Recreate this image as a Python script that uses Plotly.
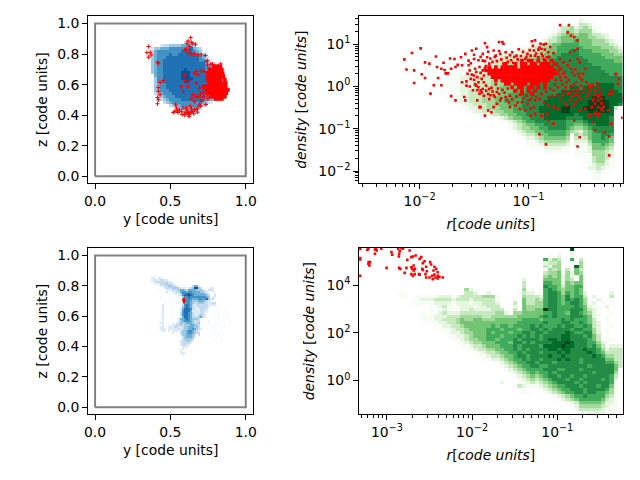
#!/usr/bin/env python3
"""Gas slices in the y-z plane and density against radius, two snapshots."""

import plotly.graph_objects as go
from plotly.subplots import make_subplots

BLUES = ["#f7fbff", "#deebf7", "#c6dbef", "#9ecae1", "#6baed6", "#4292c6", "#2171b5", "#08519c", "#08306b"]
GREENS = ["#f7fcf5", "#e5f5e0", "#c7e9c0", "#a1d99b", "#74c476", "#41ab5d", "#238b45", "#006d2c", "#00441b"]

BOX_Y = [0, 1, 1, 0, 0]
BOX_Z = [0, 0, 1, 1, 0]

# histogram rows, top row first, "." is an empty bin, digits are colour levels
SLICE_TOP = [
    ".......... .......... .........",
    ".......... ..1332.... .........",
    ".....23344 4455654... .........",
    "..24455566 666667543. .........",
    "..35666666 6677776541 .........",
    "..45666676 6777777654 21.......",
    "..45666777 7777777765 321......",
    "..45667777 7777777766 4321.....",
    "..45667777 7777777777 544321...",
    "..45667777 7777777777 655432...",
    "..45667777 7778777777 6655432..",
    "..45667777 7788877777 7665432..",
    "...5667777 7788877777 7766543..",
    "...4667777 7788887777 7766543..",
    "...4667777 7778877777 77766432.",
    "...4566777 7777777777 77766532.",
    "...4566777 7777777777 77766543.",
    "...4566677 7777777777 77666543.",
    "...3456667 7777777777 76666432.",
    "....345666 7777777777 66655321.",
    "....234566 6677777776 655421...",
    "......3456 6666666665 432......",
    "........34 5566666654 1........",
    ".......... 344555543. .........",
    ".......... ..34453... .........",
    ".......... ....22.... .........",
]

SLICE_BOTTOM = [
    "..11.1.... .......... .......... .......... ......",
    ".2211221.. .......... .......... .......... ......",
    ".223223322 1......... .......... .......... ......",
    ".122333333 2211...... .......... .......... ......",
    "..12123334 3321..1... .......... .......... ......",
    "...1.12233 4433211... ..3552.... .......... ......",
    ".....1.123 3344432221 23488431.. 122....... ......",
    "......1.12 2233345543 5555444321 232....... ......",
    "........12 1122335665 6655554432 1.2....... ......",
    ".......1.1 1112224667 7665555543 2..2...... ......",
    ".......1.. 11.1123677 8765555554 3..2...... ......",
    "......1... ..1..11466 7666666665 4.22...... ......",
    "......1.1. 1.1.1.1356 6655566567 423....... ......",
    "......1.1. .1.1.1.256 6544455543 22........ ......",
    ".......11. 1.1...1256 6543344433 2233...... ......",
    ".......21. .1.1..1367 6532333333 2222.1.... ......",
    ".......21. .1..1.1467 6532233333 2.1.1..... ......",
    ".......211 ..1...2577 7632223332 1..1.1.... ......",
    ".......21. .1..1.2677 7522223322 1.1.1.1.1. ......",
    "......121. ..1.1.3677 6532223321 .1.1.1.1.1 ......",
    "......12.1 .1...13677 6532234321 ..1.1.1.1. ......",
    "......12.. 1.1..12577 6533345321 .1.1.1.1.1 ......",
    "......12.1 ..1.125567 6544431... ..11.1.1.1 1.....",
    ".....112.1 1.1.124566 6543331... 1..1.1.1.. .1....",
    ".....122.. .111234445 5543341... 1.1.1.1.1. ......",
    ".....112.1 1122334344 4554431... 1.1.1.1.1. 1.....",
    ".....1221. 2223322344 5554431... .1.1..1.1. ......",
    ".....1222. 2222232344 5565432... ..1.1.1... ......",
    "......122. 2.222.3445 665432.... .......... ......",
    ".......1.. .12.1.3445 665433.... .1.1.1.1.. ......",
    ".......... ...1..2445 5543.3.... ...1.1.1.. ......",
    ".......... ......1345 55421..... 1...1.1... ......",
    ".......... ......1344 4431...... ..1...1... ......",
    ".......... .....12334 432....... .......... ......",
    ".......... .....12333 32........ ....1..... ......",
    ".......... ......2332 2......... .......... ......",
    ".......... ......1222 1......... .......... ......",
    ".......... ......1211 .......... .......... ......",
    ".......... .....1211. .......... .......... ......",
    ".......... ......222. .......... .......... ......",
    ".......... ......121. .......... .......... ......",
]

PROFILE_TOP = [
    ".......... .......... .......... 1.........",
    ".......... .......... .......... 21........",
    ".......... .......... .........1 3321......",
    ".......... .......... .....13342 34311.....",
    ".......... .......... .....23443 44421.....",
    ".......... .......... ...1234554 5543322...",
    ".......... .......... ..12345555 554433211.",
    ".......... .......... .123345556 5554443211",
    ".......... .........1 2334556666 5554444321",
    ".......... ......1112 3344566666 6555544432",
    ".......... ...1112223 3445566677 6665555443",
    ".......... ..12222333 4455667777 6666655544",
    ".......... 1223333344 5556677777 7666665555",
    ".......1.1 2333334445 5566777777 7766666655",
    "......1111 2334444455 5667777777 7776666666",
    "1...111122 2334444555 6667777777 7777766666",
    "1..1112222 3344455556 6677777777 7777776666",
    "1111122223 3444555566 6777777777 7777777676",
    "1112222333 3444555666 7777777777 7777777777",
    "1112223333 4445555666 7777777777 7777777777",
    "1112223333 4445556667 7777777777 7777888877",
    "1112223334 4455556667 7777777788 7888888877",
    "1112233334 4455566677 7777778888 8888888887",
    "1112233344 4455666777 7777788888 8888888888",
    "1.12233344 4556666777 7778888888 8889998888",
    ".112233344 4556666777 7788888888 8899999888",
    "...1223334 4555666777 7788888888 8899999887",
    "...1122334 4455566777 7888889988 8999999831",
    "....112233 3445566677 7888889988 88999998..",
    "......1122 3344556677 7788888887 88888888..",
    ".........1 1123455667 7788888777 78888887..",
    ".......... ..11234566 7777777666 67888887..",
    ".......... ....123455 6677777665 56778887..",
    ".......... ....123445 5667777654 45677777..",
    ".......... .....12344 5566666543 24567777..",
    ".......... ......1233 45566665.4 34566776..",
    ".......... .......122 34555554.3 23566765..",
    ".......... ........11 23444443.2 22466665..",
    ".......... ........11 12333332.2 11355654..",
    ".......... .........1 11222211.1 11255543..",
    ".......... .......... ..111111.1 11244432..",
    ".......... .......... .........1 11144432..",
    ".......... .......... .......... .1134431..",
    ".......... .......... .......... .1134421..",
    ".......... .......... .......... ..123321..",
    ".......... .......... .......... ..223211..",
    ".......... .......... .......... ...1211...",
    ".......... .......... .......... ...11.....",
    ".......... .......... .......... ...11.....",
    ".......... .......... .......... ....1.....",
]

PROFILE_BOTTOM = [
    ".......... .......... .......... .......... ........9. ..........",
    ".......... .......... .......... .......... .....1..2. ..........",
    ".......... .......... .......... .......... ...1.2..1. ..........",
    ".......... .......... .......... .......... ..6243..6. 3.........",
    ".......... .......... .......... .......... ..2334...1 4.........",
    ".......... .......... .......... .......... ..3244..18 4.........",
    ".......... .......... .......... .......... ..1434.3.5 3.........",
    ".......... .......... .......... .......... ..34451425 4.........",
    ".......... .......... .......... .......... ..4545242. 5.........",
    ".......... .......... .......... .......2.. ..5555243. 5.........",
    ".......... .......... .......... .......3.. ..66552545 5.........",
    ".......... .......... .......... .......3.. ..76653556 6.........",
    ".......... .......... ....421... .......411 .167654556 5.........",
    ".........1 1......... ....332..2 ......1322 .167764656 52.....2..",
    ".........1 1..1111122 2123333344 41.....433 3267765756 63.2...3..",
    ".......... ..11222333 3233323333 31...1.533 4367765767 641.2..1..",
    ".......... ..11111222 2122212233 32...3.533 4467765677 6412.1.1..",
    ".......... ...1..1123 1112221223 33...2.544 4467766667 65211.2...",
    ".......... ......1.12 1112232222 333.13.544 5597766677 75321.1...",
    ".......... ....1.1123 2223333333 3442144555 5566766577 65421..1..",
    ".......... ....111222 3334444433 4444445555 5676766677 76521.1...",
    ".......... ....111223 3345445544 4555555666 6566667676 66531.1...",
    ".......... ......1122 3345555555 5555556666 6676667766 76532.1...",
    ".......... .......112 2334555555 6566566667 6766676776 67632..1..",
    ".......... ........11 1233455556 6656665667 7676777767 76642.1...",
    ".......... .........1 1223445556 5666566776 7767777876 67742.1...",
    ".......... .......... 1122345556 6656667676 7677778877 76753.1...",
    ".......... .......... .112344556 6566676777 7678878877 77653.11..",
    ".......... .......... ..11234455 5666577676 7777888987 7766421.1.",
    ".......... .......... ...1123345 5566676777 7688889887 7767531222",
    ".......... .......... ....112334 4556676767 7778878877 7877642333",
    ".......... .......... ......1123 3455667677 7677787877 7787653333",
    ".......... .......... .......112 3345567767 7778778777 7778764433",
    ".......... .......... ........11 2234566767 7677787877 6777775533",
    ".......... .......... .......... 1123456677 6777677777 6777776643",
    ".......... .......... .......... ..12345667 7667777777 7767777753",
    ".......... .......... .......... ...1234566 6677766777 677777775.",
    ".......... .......... .......... ....123456 5667677777 777677774.",
    ".......... .......... .......... .....12345 4567767767 767777763.",
    ".......... .......... .......... ......1234 3456777677 677776762.",
    ".......... .......... .......... ..2...1123 2345677776 767777761.",
    ".......... .......... .......... ......3211 1234566777 677767751.",
    ".......... .......... .......... .......1.. .123456677 767777641.",
    ".......... .......... .......... .......11. ..12345667 767766541.",
    ".......... .......... .......... .......... ....123456 676666431.",
    ".......... .......... .......... .......... .....12345 666665321.",
    ".......... .......... .......... .......... .......123 555554221.",
    ".......... .......... .......... .......... ........12 444443211.",
    ".......... .......... .......... .......... .........1 333332111.",
    ".......... .......... .......... .......... .......... 1122221.1.",
]

# red particles, y-z slice of the first snapshot
RED_Y_TOP = [.355, .344, .366, .355, .371, .414, .42, .453, .431, .42, .42, .414, .42, .414, .431,
             .529, .519, .551, .573, .595, .617, .638, .66, .682, .693, .623, .606, .627, .649, .671,
             .54, .534, .584, .606, .632, .671, .682, .66, .595, .627, .595, .573, .584, .617, .649,
             .638, .671, .66, .704, .725, .747, .693, .715, .671, .725, .704, .736, .747, .758, .769,
             .634, .617, .649, .667, .606, .627, .595, .617, .638, .66, .682, .704, .732, .61, .627,
             .638, .78, .834, .813, .791, .747,
             .56, .545, .578, .595, .61, .625, .64, .655, .68, .70, .715, .735, .75, .72, .70, .69]
RED_Z_TOP = [.85, .81, .812, .78, .795, .747, .74, .627, .614, .582, .556, .516, .501, .475, .534,
             .425, .418, .418, .425, .414, .418, .42, .436, .447, .468, .392, .414, .414, .425, .436,
             .447, .468, .447, .447, .458, .686, .664, .675, .664, .625, .625, .588, .556, .588, .534,
             .508, .523, .49, .49, .523, .534, .577, .582, .61, .686, .69, .752, .73, .708, .734,
             .908, .887, .871, .865, .834, .828, .828, .806, .8, .8, .795, .795, .791, .871, .85,
             .878, .734, .736, .719, .719, .756,
             .435, .43, .405, .40, .432, .405, .44, .41, .42, .46, .50, .47, .51, .55, .54, .52]

# the solid clump on the right of that slice, one z per row of y values
CLUMP_Z = [.719, .697, .675, .654, .632, .61, .588, .566, .545, .523, .508]
CLUMP_Y = [
    [.79, .81, .83],
    [.76, .78, .80, .82, .84],
    [.75, .77, .79, .81, .83, .845],
    [.75, .77, .79, .81, .83, .85],
    [.75, .77, .79, .81, .83, .86],
    [.76, .78, .80, .82, .84, .865],
    [.72, .74, .76, .78, .80, .82, .84, .865],
    [.74, .76, .78, .80, .82, .84, .86, .88],
    [.75, .77, .79, .81, .83, .85, .87],
    [.77, .79, .81, .83, .85, .86],
    [.80, .82, .84],
]

RED_Y_BOTTOM = [.588, .592, .59, .585, .595, .59, .59]
RED_Z_BOTTOM = [.71, .70, .695, .705, .705, .69, .715]

# log10 radius and log10 density of the red particles
LOGR_TOP = [-2.14, -2.12, -2.07, -2.05, -2.05, -1.99, -1.98, -1.95, -1.95, -1.91, -1.90, -1.87, -1.85, -1.84,
            -1.83, -1.80, -1.80, -1.78, -1.77, -1.76, -1.74, -1.72, -1.71, -1.71, -1.68, -1.67, -1.67, -1.65,
            -1.62, -1.61, -1.61, -1.59, -1.58, -1.58, -1.57, -1.55, -1.55, -1.53, -1.52, -1.51, -1.50, -1.49,
            -1.48, -1.47, -1.45, -1.44, -1.44, -1.42, -1.42, -1.40, -1.40, -1.38, -1.37, -1.36, -1.35, -1.34,
            -1.32, -1.32, -1.29, -1.27, -1.24, -1.23, -1.26, -1.21, -1.47, -1.45, -1.42, -1.48, -1.50, -1.45,
            -1.42, -1.38, -1.30, -1.26, -1.21, -1.15, -1.11, -1.17, -1.12, -1.08, -1.03, -.98, -.95, -1.06,
            -1.0, -.94, -1.18, -1.32, -1.29, -1.36, -1.39, -.97, -.94, -.89, -.86, -.84, -.91, -.95, -.88,
            -.85, -.82, -.98, -.94, -.88, -.83, -.77, -.80, -1.01, -.91, -1.03, -.86, -.71, -.63, -.64, -.61,
            -.58, -.55, -.62, -.58, -.55, -.71, -.68, -.62, -.55, -.53, -.64, -.61, -.70, -.73, -.67, -.58,
            -.53, -.48, -.70, -.65, -.61, -.56, -.52, -.47, -.44, -.73, -.68, -.64, -.59, -.55, -.50, -.45,
            -.74, -.77, -.71, -.67, -.62, -.58, -.77, -.73, -.82, -.83, -.88, -.94, -.98, -.82, -.77, -.58,
            -.48, -.53, -.36, -.38, -.39, -.35, -.36, -.33, -.39, -.36, -.33, -.38, -.35, -.36, -.39, -.32,
            -.42, -.44, -.41, -.27, -.26, -.24, -.23, -.20, -.17, -.18, -.14, -.14, -.24, -.30, -.26, -.39,
            -.90, -.84, -.53, -.55, -.26, -.42, -.39, -.41, -.36,
            -1.53, -1.50, -1.46, -1.44, -1.40, -1.39, -1.37, -1.35, -1.33, -1.31, -1.29, -1.27, -1.25, -1.23,
            -1.20, -1.19, -1.17, -1.16, -1.14, -1.13, -1.10, -1.09, -1.07, -1.05, -1.02, -.99, -.96, -.93,
            -.90, -.87, -.81, -.78, -.74, -.72,
            -1.56, -1.54, -1.52, -1.50, -1.48, -1.47, -1.46, -1.44, -1.43, -1.41, -1.41, -1.40, -1.57, -1.54, -1.49,
            -1.46, -1.43, -1.41, -1.39, -1.37, -1.36, -1.34, -1.33, -1.31, -1.30, -1.28, -1.27, -1.25, -1.24,
            -1.22, -1.20, -1.19, -1.17, -1.15, -1.13, -1.11, -1.10, -1.08, -1.05, -1.02, -1.01, -.98, -.96,
            -.93, -.90, -.88, -.86, -.84, -.82, -.80, -.78, -.76, -.75,
            -.74, -.72, -.71, -.69, -.68, -.66, -.66, -.63, -.60, -.58, -.57, -.55, -.54, -.51, -.50, -.49,
            -.47, -.45, -.43, -.41, -.40, -.37, -.34, -.33, -.31, -.62, -.60, -.56, -.52, -.69, -.65, -.60, -.57]
LOGD_TOP = [.64, .40, .79, .38, .08, .90, .29, .57, .20, .54, -.17, .03, .71, .46,
            .20, .03, .42, .56, .39, .31, .31, .66, .42, -.23, .65, -.33, .46, .51,
            .69, .50, .10, -.25, -.33, .77, .02, .50, .61, .18, .85, -.09, .65, .42,
            .89, -.33, -.49, -.49, -.09, .77, .38, 1.02, -.69, .93, -.57, .54, -.21, -.61,
            .85, -.49, -.41, 1.05, 1.05, 1.01, -.33, -.25, -.09, -.17, -.06, .02, .26, .46,
            .61, .69, .73, .77, .81, .81, .73, -.49, -.45, -.53, -.57, -.53, -.49, -.37,
            -.33, -.33, -.37, -.21, -.13, -.06, .02, 1.07, 1.09, 1.01, .99, 1.01, .87, .85, .89,
            .87, .81, .73, .73, .77, .69, .79, .93, .77, .69, .65, .65, 1.45, 1.45, 1.28, 1.20,
            1.17, 1.09, .81, .85, .89, .65, .57, .61, .65, .57, .50, .42, .42, .30, .34, .26,
            .22, .42, .14, .10, .02, .10, .02, .10, -.02, -.02, -.09, -.17, -.09, -.21, -.13, -.17,
            -.21, -.09, -.29, -.37, -.33, -.41, -.49, -.53, -.45, -.65, -.69, -.65, -.69, -.80, -.88, -.80,
            -.53, -.57, -.02, -.09, -.21, -.21, -.33, -.29, -.41, -.49, -.53, -.61, -.65, -.72, -.65, -.57,
            -.49, -.69, -.84, -.57, -.17, -.09, -.17, .30, .18, .06, -.29, -.74, -.88, -1.08, -1.18, -1.04,
            -1.13, -1.37, -1.20, -1.42, -1.63, .02, -.09, -.33, -.25,
            .55, .75, .62, .70, .60, .48, .82, .66, .58, .70, .60, .84, .64, .54,
            .68, .58, .74, .62, .56, .70, .64, .88, .72, .82, .70, .86, .96, .78,
            .92, .72, .70, .60, .52, .46,
            .30, .38, .28, .16, .34, .22, .10, .32, .18, .26, .10, .44, .12, .0, .05,
            -.02, -.14, -.22, -.10, -.18, -.30, -.03, -.12, -.25, .05, -.05, -.18, -.28, -.08,
            -.15, -.32, -.05, -.22, -.30, -.12, -.24, -.38, -.20, -.28, -.22, -.42, -.30, -.20,
            -.25, -.30, -.18, -.38, -.12, -.25, -.05, -.22, .05, .15,
            .30, .38, .22, .05, .30, .22, -.02, .15, .33, .05, .40, -.08, .30, .15, .30, -.05,
            -.25, .03, -.10, .05, -.30, .08, -.12, -.40, -.48, -.15, -.25, -.35, -.30, -.2, -.45, -.48, -.18]

# dense part of the same cloud, one log density per row of log radii
CORE_LOGD = [.61, .535, .457, .378, .30, .22, .14, .06, -.02, -.10, -.17]
CORE_LOGR = [
    [-1.06, -1.00, -.97, -.91, -.85, -.79],
    [-1.21, -1.12, -1.06, -1.03, -.97, -.94, -.88, -.85, -.82, -.76],
    [-1.36, -1.30, -1.24, -1.21, -1.18, -1.15, -1.12, -1.06, -1.03, -1.00, -.97, -.94, -.91, -.88, -.85, -.82, -.79],
    [-1.39, -1.36, -1.33, -1.30, -1.27, -1.24, -1.21, -1.18, -1.15, -1.12, -1.09, -1.06, -1.03, -1.00, -.97, -.94, -.91, -.88, -.85, -.82, -.79, -.76],
    [-1.36, -1.33, -1.30, -1.27, -1.24, -1.21, -1.18, -1.15, -1.12, -1.09, -1.06, -1.03, -1.00, -.97, -.94, -.91, -.88, -.85, -.82, -.79, -.76],
    [-1.33, -1.30, -1.27, -1.24, -1.21, -1.18, -1.15, -1.12, -1.09, -1.06, -1.03, -1.00, -.97, -.94, -.91, -.88, -.85, -.82, -.79],
    [-1.30, -1.24, -1.21, -1.18, -1.15, -1.12, -1.09, -1.06, -1.03, -1.00, -.97, -.94, -.91, -.88, -.85, -.82],
    [-1.21, -1.18, -1.12, -1.09, -1.06, -1.03, -.97, -.94, -.91, -.85],
    [-1.15, -1.09, -1.06, -1.00, -.97, -.91, -.85],
    [-1.12, -1.06, -1.00, -.94],
    [-1.06, -.97],
]

LOGR_BOTTOM = [-3.314, -3.314, -3.314, -3.314, -3.229, -3.217, -3.213, -3.198, -3.205, -3.217, -3.14, -3.128, -3.12,
               -3.14, -3.066, -3.004, -2.946, -2.938, -2.868, -2.849, -2.857, -2.86, -2.829, -2.733, -2.857, -2.841,
               -2.791, -2.76, -2.771, -2.713, -2.694, -2.663, -2.713, -2.686, -2.671, -2.702, -2.686, -2.616, -2.597,
               -2.558, -2.578, -2.492, -2.481, -2.539, -2.585, -2.624, -2.578, -2.531, -2.547, -2.442, -2.422, -2.453,
               -2.403, -2.442, -2.43, -2.461, -2.403, -2.384, -2.345, -2.5, -2.539, -2.616, -2.694, -2.713, -2.674,
               -2.469, -2.403, -2.81]
LOGD_BOTTOM = [5.51, 5.13, 5.07, 4.39, 5.48, 5.52, 4.96, 4.96, 4.82, 4.89, 5.49, 5.52, 5.45, 5.31, 5.52, 4.72, 5.38,
               5.27, 5.52, 5.42, 5.31, 5.2, 5.55, 5.45, 4.72, 4.68, 4.51, 5.06, 4.72, 5.17, 5.2, 5.24, 4.75, 4.82,
               4.68, 4.68, 4.61, 5.1, 5.17, 5.0, 4.92, 4.96, 4.86, 4.77, 4.68, 4.46, 4.63, 4.58, 4.46, 4.77, 4.68,
               4.61, 4.54, 4.44, 4.32, 4.25, 4.28, 4.35, 4.32, 4.32, 4.32, 4.44, 4.39, 4.46, 4.46, 4.39, 4.39, 5.535]

# tick positions and labels of the log axes
R_TICKS_TOP = [0.01, 0.1]
R_LABELS_TOP = ["10<sup>\u22122</sup>", "10<sup>\u22121</sup>"]
D_TICKS_TOP = [0.01, 0.1, 1, 10]
D_LABELS_TOP = ["10<sup>\u22122</sup>", "10<sup>\u22121</sup>", "10<sup>0</sup>", "10<sup>1</sup>"]
R_TICKS_BOTTOM = [0.001, 0.01, 0.1]
R_LABELS_BOTTOM = ["10<sup>\u22123</sup>", "10<sup>\u22122</sup>", "10<sup>\u22121</sup>"]
D_TICKS_BOTTOM = [1, 100, 10000]
D_LABELS_BOTTOM = ["10<sup>0</sup>", "10<sup>2</sup>", "10<sup>4</sup>"]

# axis extents
SLICE_RANGE = [-0.046, 1.05]
LOGR_RANGE_TOP = [-2.555, -0.136]
LOGD_RANGE_TOP = [-2.29, 1.667]
LOGR_RANGE_BOTTOM = [-3.326, -0.233]
LOGD_RANGE_BOTTOM = [-1.416, 5.555]

# bin layouts: left/top edge and bin width
TOP_SLICE_BINS = (0.333, 0.904, 0.0196)
BOTTOM_SLICE_BINS = (0.355, 0.8737, 0.01307)
PROFILE_TOP_BINS = (-2.555 + 20 * 0.0403, 0.0403, 1.667, 0.0791)
PROFILE_BOTTOM_BINS = (-3.326, 0.05155, 5.555, 0.1394)

# the page puts the figure a few px in from the window corner
PAGE_X = 10
PAGE_Y = 8
FIG_W = 632
FIG_H = 472


def xdom(left, right):
    return [(left - PAGE_X) / FIG_W, (right - PAGE_X) / FIG_W]


def ydom(top, bottom):
    return [1 - (bottom - PAGE_Y) / FIG_H, 1 - (top - PAGE_Y) / FIG_H]


def parse_rows(rows):
    """Turn digit rows into a z matrix with the bottom row first"""
    cleaned = [r.replace(" ", "") for r in rows]
    width = max(len(r) for r in cleaned)
    z = []
    for r in reversed(cleaned):
        z.append([None if ch == "." else int(ch) for ch in r.ljust(width, ".")])
    return z


def colorscale(colors):
    return [[i / (len(colors) - 1), c] for i, c in enumerate(colors)]


def add_slice(fig, rows, bins, row, col):
    x0, y_top, step = bins
    z = parse_rows(rows)
    xs = [x0 + i * step for i in range(len(z[0]) + 1)]
    ys = [y_top - (len(z) - i) * step for i in range(len(z) + 1)]
    fig.add_trace(go.Heatmap(x=xs, y=ys, z=z, zmin=1, zmax=9, colorscale=colorscale(BLUES),
                             showscale=False, hoverinfo="skip"), row=row, col=col)
    fig.add_trace(go.Scatter(x=BOX_Y, y=BOX_Z, mode="lines", line=dict(color="gray", width=2)), row=row, col=col)


def add_profile(fig, rows, bins, row, col):
    x0, dx, y_top, dy = bins
    z = parse_rows(rows)
    xs = [10 ** (x0 + i * dx) for i in range(len(z[0]) + 1)]
    ys = [10 ** (y_top - (len(z) - i) * dy) for i in range(len(z) + 1)]
    fig.add_trace(go.Heatmap(x=xs, y=ys, z=z, zmin=1, zmax=9, colorscale=colorscale(GREENS),
                             showscale=False, hoverinfo="skip"), row=row, col=col)


def add_red(fig, logr, logd, size, row, col):
    fig.add_trace(go.Scatter(x=[10 ** v for v in logr], y=[10 ** v for v in logd], mode="markers",
                             marker=dict(symbol="square", size=size, color="red", line=dict(width=0))),
                  row=row, col=col)


fig = make_subplots(rows=2, cols=2)

add_slice(fig, SLICE_TOP, TOP_SLICE_BINS, 1, 1)
add_slice(fig, SLICE_BOTTOM, BOTTOM_SLICE_BINS, 2, 1)

plus = dict(symbol="cross-thin", size=3, color="red", line=dict(color="red", width=1))
fig.add_trace(go.Scatter(x=RED_Y_TOP, y=RED_Z_TOP, mode="markers", marker=plus), row=1, col=1)
clump_y = [v for ys in CLUMP_Y for v in ys]
clump_z = [z for z, ys in zip(CLUMP_Z, CLUMP_Y) for _ in ys]
fig.add_trace(go.Scatter(x=clump_y, y=clump_z, mode="markers",
                         marker=dict(symbol="square", size=4, color="red", line=dict(width=0))), row=1, col=1)
fig.add_trace(go.Scatter(x=RED_Y_BOTTOM, y=RED_Z_BOTTOM, mode="markers",
                         marker=dict(symbol="square", size=2, color="red", line=dict(width=0))), row=2, col=1)

add_profile(fig, PROFILE_TOP, PROFILE_TOP_BINS, 1, 2)
add_red(fig, LOGR_TOP, LOGD_TOP, 2.6, 1, 2)
core_r = [v for rs in CORE_LOGR for v in rs]
core_d = [d for d, rs in zip(CORE_LOGD, CORE_LOGR) for _ in rs]
add_red(fig, core_r, core_d, 3.7, 1, 2)

add_profile(fig, PROFILE_BOTTOM, PROFILE_BOTTOM_BINS, 2, 2)
add_red(fig, LOGR_BOTTOM, LOGD_BOTTOM, 2.6, 2, 2)

title_font = dict(size=13.9)
common = dict(showline=True, mirror=True, linecolor="black", linewidth=1, ticks="outside", ticklen=5,
              tickwidth=1, tickcolor="black", showgrid=False, zeroline=False)
minor = dict(ticks="outside", ticklen=3, tickwidth=0.8, tickcolor="black", dtick="D1", showgrid=False)

slice_x = dict(common, range=SLICE_RANGE, tick0=0, dtick=0.5, tickformat=".1f",
               title=dict(text="y [code units]", standoff=6, font=title_font))
slice_y = dict(common, range=SLICE_RANGE, tick0=0, dtick=0.2, tickformat=".1f",
               title=dict(text="z [code units]", standoff=6, font=title_font))
prof_x = dict(common, type="log", tickmode="array", minor=minor,
              title=dict(text="<i>r</i>[<i>code units</i>]", standoff=11, font=title_font))
prof_y = dict(common, type="log", tickmode="array",
              title=dict(text="<i>density</i> [<i>code units</i>]", standoff=8, font=title_font))

fig.update_layout(
    width=FIG_W,
    height=FIG_H,
    margin=dict(l=0, r=0, t=0, b=0),
    paper_bgcolor="white",
    plot_bgcolor="white",
    showlegend=False,
    font=dict(family="DejaVu Sans", size=13.9, color="black"),
    xaxis=dict(slice_x, domain=xdom(87, 254)),
    yaxis=dict(slice_y, domain=ydom(15, 183)),
    xaxis2=dict(prof_x, domain=xdom(361, 627.5), range=LOGR_RANGE_TOP, tickvals=R_TICKS_TOP, ticktext=R_LABELS_TOP),
    yaxis2=dict(prof_y, domain=ydom(15, 183), range=LOGD_RANGE_TOP, tickvals=D_TICKS_TOP, ticktext=D_LABELS_TOP,
                minor=minor),
    xaxis3=dict(slice_x, domain=xdom(87, 254)),
    yaxis3=dict(slice_y, domain=ydom(248, 415)),
    xaxis4=dict(prof_x, domain=xdom(361, 627.5), range=LOGR_RANGE_BOTTOM, tickvals=R_TICKS_BOTTOM,
                ticktext=R_LABELS_BOTTOM),
    yaxis4=dict(prof_y, domain=ydom(248, 415), range=LOGD_RANGE_BOTTOM, tickvals=D_TICKS_BOTTOM,
                ticktext=D_LABELS_BOTTOM),
)

fig.write_html("out.html")
